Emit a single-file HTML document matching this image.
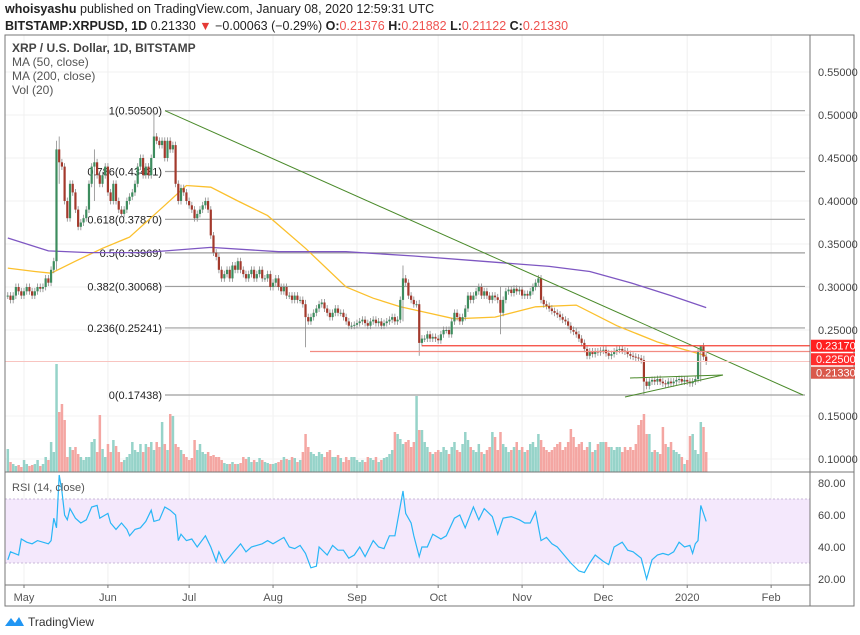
<!DOCTYPE html>
<html><head><meta charset="utf-8"><style>
html,body{margin:0;padding:0;background:#fff;width:860px;height:635px;overflow:hidden;font-family:"Liberation Sans",sans-serif}
svg{display:block}
text{font-family:"Liberation Sans",sans-serif}
</style></head><body>
<svg id="chart" width="860" height="635" viewBox="0 0 860 635" xmlns="http://www.w3.org/2000/svg">
<g>
<text x="5" y="13" font-size="12.5" fill="#222"><tspan font-weight="bold">whoisyashu</tspan> published on TradingView.com, January 08, 2020 12:59:31 UTC</text>
<text x="5" y="30" font-size="12.5" fill="#222"><tspan font-weight="bold">BITSTAMP:XRPUSD, 1D</tspan> 0.21330 <tspan fill="#e53935">▼</tspan> −0.00063 (−0.29%) <tspan font-weight="bold">O:</tspan><tspan fill="#ef5350">0.21376</tspan> <tspan font-weight="bold">H:</tspan><tspan fill="#ef5350">0.21882</tspan> <tspan font-weight="bold">L:</tspan><tspan fill="#ef5350">0.21122</tspan> <tspan font-weight="bold">C:</tspan><tspan fill="#ef5350">0.21330</tspan></text>
</g>
<g id="grid"></g>
<g id="fib"></g>
<g id="vol"></g>
<g id="mas"></g>
<g id="candles"></g>
<g id="draw"></g>
<g id="rsi"></g>
<g id="axes"></g>
<g font-size="12" fill="#555">
<text x="12" y="52" font-weight="bold" fill="#444">XRP / U.S. Dollar, 1D, BITSTAMP</text>
<text x="12" y="66">MA (50, close)</text>
<text x="12" y="80">MA (200, close)</text>
<text x="12" y="94">Vol (20)</text>
<text x="12" y="491" font-size="11">RSI (14, close)</text>
</g>
<g>
<path d="M5 626 L11 618 L15 623 L19 617 L24 626 Z" fill="#2196f3"/>
<text x="28" y="626" font-size="12" fill="#333">TradingView</text>
</g>
</svg>
<script>
const closes=[.29,.285,.29,.30,.295,.29,.295,.30,.295,.29,
.295,.30,.298,.30,.31,.305,.32,.33,.46,.445,
.44,.40,.38,.42,.41,.39,.37,.375,.38,.39,
.42,.44,.445,.43,.42,.43,.44,.41,.40,.42,
.40,.39,.385,.39,.40,.405,.41,.42,.44,.45,
.43,.44,.43,.45,.475,.47,.465,.47,.45,.47,
.46,.465,.42,.40,.415,.41,.40,.395,.39,.38,
.385,.39,.395,.40,.39,.36,.34,.335,.32,.31,
.315,.32,.31,.325,.32,.33,.32,.315,.31,.315,
.32,.31,.315,.32,.31,.31,.315,.30,.305,.31,
.30,.295,.30,.29,.29,.285,.29,.285,.285,.28,
.265,.26,.265,.27,.275,.28,.282,.275,.27,.265,
.27,.275,.27,.27,.265,.26,.255,.255,.256,.258,
.26,.262,.258,.255,.26,.262,.258,.26,.255,.258,
.26,.262,.265,.26,.262,.285,.31,.305,.29,.285,
.28,.28,.235,.24,.24,.245,.24,.242,.24,.238,
.245,.25,.25,.245,.26,.27,.265,.26,.265,.275,
.29,.285,.29,.295,.30,.29,.295,.29,.285,.29,
.288,.285,.27,.285,.295,.297,.293,.298,.295,.297,
.29,.292,.29,.295,.30,.305,.31,.285,.28,.278,
.275,.272,.27,.268,.265,.262,.26,.255,.25,.248,
.245,.24,.235,.228,.22,.225,.222,.225,.224,.226,
.227,.223,.22,.222,.225,.227,.228,.226,.225,.222,
.22,.219,.218,.217,.215,.19,.185,.19,.192,.19,
.193,.19,.188,.187,.19,.188,.19,.192,.193,.19,
.192,.19,.188,.19,.193,.225,.231,.219,.2133];
const firstOpen=0.29;
const bigWickIdx=[18,54,110,146,152,182,235,256,19,32];
const bigWickHigh=[0.47,0.505,0.285,0.325,0.285,0.30,0.22,0.2317,0.475,0.46];
const bigWickLow=[0.32,0.45,0.23,0.26,0.22,0.245,0.175,0.19,0.42,0.40];
const volumes=[23,10,8,6,7,5,12,8,6,7,
8,12,6,8,15,12,30,20,108,60,
68,52,15,25,22,25,18,15,12,15,
15,30,33,20,57,23,15,28,20,32,
26,20,10,12,15,18,30,22,20,28,
20,28,25,30,22,30,25,50,28,22,
58,56,28,25,22,18,15,12,14,32,
22,28,20,18,20,16,17,15,15,12,
9,8,8,10,8,8,9,15,13,15,
10,12,10,14,12,10,9,8,8,9,
10,12,15,13,12,15,14,10,12,20,
38,25,20,18,16,20,18,15,20,22,
15,15,17,14,10,15,12,15,15,12,
10,12,10,15,14,12,15,10,12,14,
15,18,22,40,38,33,28,30,32,25,
30,76,42,42,30,25,20,18,20,22,
20,25,22,18,25,30,22,20,28,40,
32,25,22,20,28,20,18,22,25,40,
35,22,40,28,25,20,22,25,30,22,
25,20,22,28,30,25,38,32,25,22,
20,22,25,28,30,22,25,30,43,35,
25,28,30,22,25,30,20,22,28,30,
30,30,25,25,22,25,25,20,25,22,
25,22,28,47,52,58,38,38,20,22,
20,18,45,28,25,30,22,20,18,15,
8,12,36,38,22,18,50,45,20];
const ma50Days=[0,10,16,25,35,45,58,66,75,85,96,110,125,135,145,155,165,180,195,210,225,240,258];
const ma50Vals=[0.322,0.318,0.316,0.33,0.345,0.358,0.395,0.418,0.416,0.40,0.383,0.345,0.30,0.287,0.277,0.27,0.263,0.265,0.277,0.279,0.255,0.236,0.22];
const ma200Days=[0,15,30,50,75,100,125,150,175,200,215,230,245,258];
const ma200Vals=[0.357,0.342,0.34,0.34,0.346,0.341,0.341,0.336,0.33,0.324,0.318,0.305,0.29,0.276];
const rsiDays=[0,1,4,5,7,9,11,15,16,17,
18,19,20,21,22,23,25,27,29,31,
33,34,36,37,38,40,42,44,45,47,
49,51,53,54,56,58,60,62,63,64,
66,68,70,73,75,77,78,80,82,84,
86,88,90,92,94,96,98,102,104,106,
108,110,112,114,115,118,120,122,124,126,
128,130,132,135,137,139,141,143,146,147,
149,150,152,153,155,157,160,162,165,167,
169,172,174,176,179,181,183,186,189,191,
193,195,197,199,201,203,205,208,211,213,
215,217,220,222,224,227,229,231,234,236,
238,240,242,244,246,248,250,252,253,254,
255,256,258];
const rsiVals=[32,37,35,45,43,42,44,42,44,58,
52,85,75,60,57,64,58,55,57,65,
66,58,60,61,55,51,55,51,47,51,
52,56,63,56,57,65,63,60,44,48,
44,45,40,47,40,31,37,30,34,38,
42,37,40,41,42,44,42,46,40,39,
41,36,27,28,40,35,41,38,38,33,
35,40,34,44,40,39,47,47,75,61,
55,47,34,40,40,48,45,47,58,60,
52,65,57,64,59,48,58,59,57,55,
55,62,44,46,42,40,36,30,25,24,
30,35,31,29,40,43,38,37,33,20,
32,35,36,35,37,43,40,41,36,42,
44,66,56];
const priceTicks=[0.55,0.50,0.45,0.40,0.35,0.30,0.25];
const volTickLabels=["0.15000","0.10000"];
const volTickVals=[0.15,0.10];
const rsiTicks=[80,60,40,20];
const monthLabels=["May","Jun","Jul","Aug","Sep","Oct","Nov","Dec","2020","Feb"];
const monthDays=[6,37,67,98,129,159,190,220,251,282];
const fibLevels=[1,0.786,0.618,0.5,0.382,0.236,0];
const fibPrices=[0.505,0.43431,0.3787,0.33969,0.30068,0.25241,0.17438];
const fibLabels=["1(0.50500)","0.786(0.43431)","0.618(0.37870)","0.5(0.33969)","0.382(0.30068)","0.236(0.25241)","0(0.17438)"];
const levelPrices=[0.2317,0.225,0.2133];
const levelLabels=["0.23170","0.22500","0.21330"];

const NS="http://www.w3.org/2000/svg";
const L=5,R=810,TOP=35,MAINB=472,RSIB=585,BOT=606;
const xDay=d=>7.76+d*2.707;
const yP=p=>115-(p-0.5)*860;
const yR=v=>579-(v-20)*1.6;
const yVol=v=>472-v;
function mk(parent,tag,attrs){const e=document.createElementNS(NS,tag);for(const k in attrs)e.setAttribute(k,attrs[k]);document.getElementById(parent).appendChild(e);return e;}

monthDays.forEach((d,i)=>{const e=mk('grid','line',{x1:xDay(d),x2:xDay(d),y1:TOP,y2:RSIB,stroke:'#f0f0f0'});

});
priceTicks.forEach(p=>{const e=mk('grid','line',{x1:L,x2:R,y1:yP(p),y2:yP(p),stroke:'#f0f0f0'});

});
volTickVals.forEach(p=>{const e=mk('grid','line',{x1:L,x2:R,y1:yP(p),y2:yP(p),stroke:'#f3f3f3'});

});

fibPrices.forEach((p,i)=>{const y=yP(p);
const ln=mk('fib','line',{x1:165,x2:805,y1:y,y2:y,stroke:'#9e9e9e','stroke-width':1.2});


const t=mk('fib','text',{x:162,y:y+4,'font-size':11,'text-anchor':'end',fill:'#222'});t.textContent=fibLabels[i];

});

let prev=firstOpen;
closes.forEach((c,i)=>{const o=prev;prev=c;const up=c>=o;
let hi=Math.max(o,c)+0.004,lo=Math.min(o,c)-0.004;const k=bigWickIdx.indexOf(i);if(k>=0){hi=bigWickHigh[k];lo=bigWickLow[k];}
const x=xDay(i);
const vb=mk('vol','rect',{x:x-1.2,y:yVol(volumes[i]),width:2.5,height:volumes[i],fill:up?'#96d3c9':'#f4a6a2'});


const col=up?'#3d8c5e':'#a3392c';
const w=mk('candles','line',{x1:x,x2:x,y1:yP(hi),y2:yP(lo),stroke:'#8a8a8a','stroke-width':0.8});


const yt=yP(Math.max(o,c)),yb=yP(Math.min(o,c));
const b=mk('candles','rect',{x:x-1.1,y:yt,width:2.2,height:Math.max(1,yb-yt),fill:col});

});

function poly(days,vals,color,name){const pts=days.map((d,i)=>xDay(d).toFixed(1)+','+yP(vals[i]).toFixed(1)).join(' ');
const e=mk('mas','polyline',{points:pts,fill:'none',stroke:color,'stroke-width':1.3});

}
poly(ma50Days,ma50Vals,'#fbc02d','ma50-line');
poly(ma200Days,ma200Vals,'#7e57c2','ma200-line');

let e;
e=mk('draw','line',{x1:165,y1:yP(0.505),x2:803,y2:395,stroke:'#4a8a2a','stroke-width':1});


e=mk('draw','line',{x1:625,y1:397,x2:723,y2:375,stroke:'#4a8a2a','stroke-width':1});


e=mk('draw','line',{x1:630,y1:378,x2:723,y2:375,stroke:'#4a8a2a','stroke-width':1});


e=mk('draw','line',{x1:422,y1:yP(levelPrices[0]),x2:R,y2:yP(levelPrices[0]),stroke:'#f44336','stroke-width':1.2});


e=mk('draw','line',{x1:310,y1:yP(levelPrices[1]),x2:R,y2:yP(levelPrices[1]),stroke:'#f28b82','stroke-width':1.2});


e=mk('draw','line',{x1:L,y1:yP(levelPrices[2]),x2:R,y2:yP(levelPrices[2]),stroke:'#f8c4c0','stroke-width':1});



e=mk('rsi','rect',{x:L,y:yR(70),width:R-L,height:yR(30)-yR(70),fill:'#f4e8fc'});


[70,30].forEach(v=>{const d=mk('rsi','line',{x1:L,x2:R,y1:yR(v),y2:yR(v),stroke:'#c9b8d8','stroke-dasharray':'2,2'});

});
e=mk('rsi','polyline',{points:rsiDays.map((d,i)=>xDay(d).toFixed(1)+','+yR(rsiVals[i]).toFixed(1)).join(' '),fill:'none',stroke:'#29b6f6','stroke-width':1.2});



e=mk('axes','rect',{x:L,y:TOP,width:854-L,height:BOT-TOP,fill:'none',stroke:'#777'});


[[R,TOP,R,BOT],[L,MAINB,854,MAINB],[L,RSIB,R,RSIB]].forEach(a=>{const l=mk('axes','line',{x1:a[0],y1:a[1],x2:a[2],y2:a[3],stroke:'#777'});

});
priceTicks.forEach(p=>{const t=mk('axes','text',{x:818,y:yP(p)+4,'font-size':11,fill:'#444'});t.textContent=p.toFixed(5);

});
volTickVals.forEach((p,i)=>{const t=mk('axes','text',{x:818,y:yP(p)+4,'font-size':11,fill:'#444'});t.textContent=volTickLabels[i];

});
rsiTicks.forEach(v=>{const t=mk('axes','text',{x:818,y:yR(v)+4,'font-size':11,fill:'#444'});t.textContent=v.toFixed(2);

});
monthDays.forEach((d,i)=>{const x=xDay(d);
const tk=mk('axes','line',{x1:x,x2:x,y1:RSIB,y2:RSIB+3,stroke:'#777'});


const t=mk('axes','text',{x:x,y:RSIB+16,'font-size':11,'text-anchor':'middle',fill:'#555'});t.textContent=monthLabels[i];

});
const bgs=['#ff1f1f','#ff2d2d','#d9594c'];
const labelGap=13.5;
levelPrices.forEach((p,i)=>{const y=yP(levelPrices[0])+i*labelGap;
const r=mk('axes','rect',{x:R+1,y:y-6,width:44,height:12,fill:bgs[i]});


const t=mk('axes','text',{x:816,y:y+4,'font-size':11,fill:'#fff'});t.textContent=levelLabels[i];

});
</script>
</body></html>
